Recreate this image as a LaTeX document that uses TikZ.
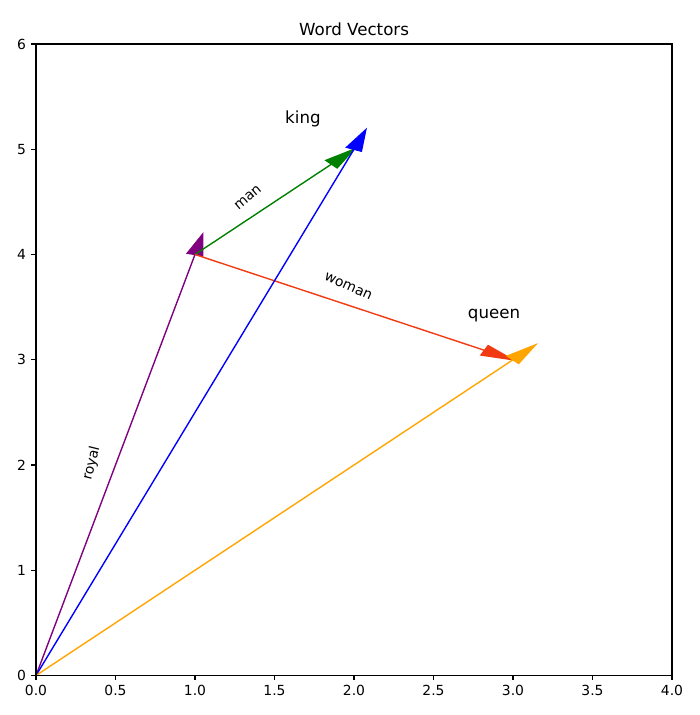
\documentclass[tikz,border=0pt]{standalone}
\usepackage{fontspec}
\setmainfont{DejaVu Sans}
\usetikzlibrary{calc}

\definecolor{kingblue}{RGB}{0,0,255}
\definecolor{queenorange}{RGB}{255,165,0}
\definecolor{mangreen}{RGB}{0,128,0}
\definecolor{womanred}{RGB}{242,58,18}
\definecolor{royalpurple}{RGB}{128,0,128}

\tikzset{
  vecline/.style={draw=#1, line width=1pt},
  vechead/.style={fill=#1, draw=#1, line width=1pt, line join=miter},
  ticklabel/.style={font=\fontsize{10}{12}\selectfont, inner sep=0pt},
  biglabel/.style={font=\fontsize{12}{14}\selectfont, inner sep=0pt},
  smalllabel/.style={font=\fontsize{10}{12}\selectfont, inner sep=0pt}
}

% #1 colour, #2 start, #3 dx, #4 dy, #5 name of the tip, #6 head added on top (0.2) or not (0)
\newcommand{\wordvec}[6]{%
  \pgfmathsetmacro{\vlen}{veclen(#3,#4)}%
  \pgfmathsetmacro{\vux}{#3/\vlen}%
  \pgfmathsetmacro{\vuy}{#4/\vlen}%
  \pgfmathsetmacro{\vbx}{#3+(#6-0.2)*\vux}%
  \pgfmathsetmacro{\vby}{#4+(#6-0.2)*\vuy}%
  \pgfmathsetmacro{\vtx}{0.2*\vux}%
  \pgfmathsetmacro{\vty}{0.2*\vuy}%
  \pgfmathsetmacro{\vpx}{-0.05*\vuy}%
  \pgfmathsetmacro{\vpy}{0.05*\vux}%
  \coordinate (#5-base) at ($(#2)+(\vbx,\vby)$);
  \coordinate (#5) at ($(#5-base)+(\vtx,\vty)$);
  \coordinate (#5-l) at ($(#5-base)+(\vpx,\vpy)$);
  \coordinate (#5-r) at ($(#5-base)-(\vpx,\vpy)$);
  \draw[vecline=#1] (#2) -- (#5-base);
  \filldraw[vechead=#1] (#5-l) -- (#5) -- (#5-r) -- cycle;
}

\begin{document}
\begin{tikzpicture}[x=114.48pt, y=75.78pt]

  \fill[white] (-25.92pt,-28.44pt) rectangle (478.08pt,486.36pt);
  \useasboundingbox (-25.92pt,-28.44pt) rectangle (478.08pt,486.36pt);

  \coordinate (o) at (0,0);
  \coordinate (m0) at (1,4);

  \wordvec{royalpurple}{o}{1}{4}{royaltip}{0.2}
  \wordvec{mangreen}{m0}{1}{1}{mantip}{0}
  \wordvec{womanred}{m0}{2}{-1}{womantip}{0}
  \wordvec{kingblue}{o}{2}{5}{kingtip}{0.2}
  \wordvec{queenorange}{o}{3}{3}{queentip}{0.2}

  % frame and ticks
  \draw[line width=0.8pt, line join=miter] (0,0) rectangle (4,6);
  \foreach \tx in {0.0,0.5,1.0,1.5,2.0,2.5,3.0,3.5,4.0}{
    \draw[line width=0.8pt] (\tx,0) -- ++(0,-3.5pt);
    \node[ticklabel, anchor=north] (xt-\tx) at ([yshift=-7pt]\tx,0) {\tx};
  }
  \foreach \ty in {0,...,6}{
    \draw[line width=0.8pt] (0,\ty) -- ++(-3.5pt,0);
    \node[ticklabel, anchor=east] (yt-\ty) at ([xshift=-7pt]0,\ty) {\ty};
  }

  \node[biglabel, anchor=base] (title) at ([yshift=6pt]2,6) {Word Vectors};

  \node[biglabel] (king) at (1.679,5.287) {king};
  \node[biglabel] (queen) at (2.881,3.42) {queen};
  \node[smalllabel, rotate=40] (man) at (1.333,4.54) {man};
  \node[smalllabel, rotate=-24] (woman) at (1.964,3.694) {woman};
  \node[smalllabel, rotate=76] (royal) at (0.35,2.016) {royal};

\end{tikzpicture}
\end{document}
